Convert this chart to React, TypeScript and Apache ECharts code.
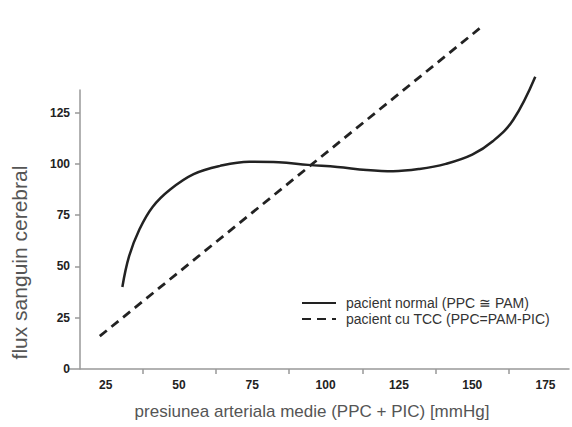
import React, { useEffect, useRef } from "react";
import * as echarts from "echarts";

const xLabelValues = [25, 50, 75, 100, 125, 150, 175];
const xTickValues = [37.5, 62.5, 87.5, 112.5, 137.5, 162.5];
const yLabelValues = [0, 25, 50, 75, 100, 125];
const yTickValues = [25, 50, 75, 100, 125];

const normalX = [30.7, 33, 36.5, 41, 47, 55, 64, 74, 84, 94, 104, 114, 123, 132, 141, 150, 157, 164, 171.5];
const normalY = [40, 55, 68, 79, 87.5, 95, 99, 101, 100.8, 99.5, 98.5, 97, 96.4, 97.5, 100, 104.5, 111, 121.5, 142.5];

const tccX = [23, 152.5];
const tccY = [16, 166];

const seriesNames = ["pacient normal (PPC \u2245 PAM)", "pacient cu TCC (PPC=PAM-PIC)"];

export default function App() {
  const ref = useRef<HTMLDivElement>(null);
  useEffect(() => {
    if (!ref.current) return;
    const chart = echarts.init(ref.current, null, { renderer: "svg" });
    const tickLabelStyle = {
      color: "#222",
      fontSize: 12,
      fontWeight: "bold" as const,
      fontFamily: "Liberation Sans, Arial, sans-serif",
    };
    chart.setOption({
      animation: false,
      backgroundColor: "#ffffff",
      grid: { left: 69, right: 3, top: 90, bottom: 58, containLabel: false },
      legend: {
        orient: "vertical",
        left: 296,
        top: 291,
        itemWidth: 34,
        itemHeight: 12,
        itemGap: 2,
        itemStyle: { opacity: 0 },
        textStyle: {
          color: "#333",
          fontSize: 14,
          fontFamily: "Liberation Sans, Arial, sans-serif",
          padding: [0, 0, 0, 5],
        },
        data: seriesNames,
      },
      xAxis: {
        type: "value",
        min: 12.5,
        max: 183,
        name: "presiunea arteriala medie (PPC + PIC) [mmHg]",
        nameLocation: "middle",
        nameGap: 34,
        nameTextStyle: {
          color: "#555",
          fontSize: 17,
          fontFamily: "Liberation Sans, Arial, sans-serif",
          padding: [0, 14, 0, 0],
        },
        axisLine: { show: true, onZero: false, lineStyle: { color: "#999", width: 1.5 } },
        axisTick: { show: true, inside: false, length: 5, customValues: xTickValues, lineStyle: { color: "#999", width: 1.5 } },
        axisLabel: { margin: 10, customValues: xLabelValues, ...tickLabelStyle },
        splitLine: { show: false },
      },
      yAxis: {
        type: "value",
        min: 0,
        max: 136,
        offset: -11,
        name: "flux sanguin cerebral",
        nameLocation: "middle",
        nameGap: 50,
        nameRotate: 90,
        nameTextStyle: {
          color: "#555",
          fontSize: 21,
          fontFamily: "Liberation Sans, Arial, sans-serif",
          padding: [0, 66, 0, 0],
        },
        axisLine: { show: true, onZero: false, lineStyle: { color: "#999", width: 1.5 } },
        axisTick: { show: true, inside: false, length: 5, customValues: yTickValues, lineStyle: { color: "#999", width: 1.5 } },
        axisLabel: { margin: 10, customValues: yLabelValues, ...tickLabelStyle },
        splitLine: { show: false },
      },
      series: [
        {
          name: seriesNames[0],
          type: "line",
          smooth: 0.4,
          symbol: "none",
          clip: false,
          data: normalX.map((x, i) => [x, normalY[i]]),
          itemStyle: { color: "#222" },
          lineStyle: { color: "#222", width: 2.5 },
        },
        {
          name: seriesNames[1],
          type: "line",
          symbol: "none",
          clip: false,
          data: tccX.map((x, i) => [x, tccY[i]]),
          itemStyle: { color: "#222" },
          lineStyle: { color: "#222", width: 2.8, type: [9, 6] },
        },
      ],
    });
    return () => chart.dispose();
  }, []);
  return (
    <div
      ref={ref}
      style={{ position: "fixed", left: 0, top: 0, width: 572, height: 427, background: "#fff" }}
    />
  );
}
